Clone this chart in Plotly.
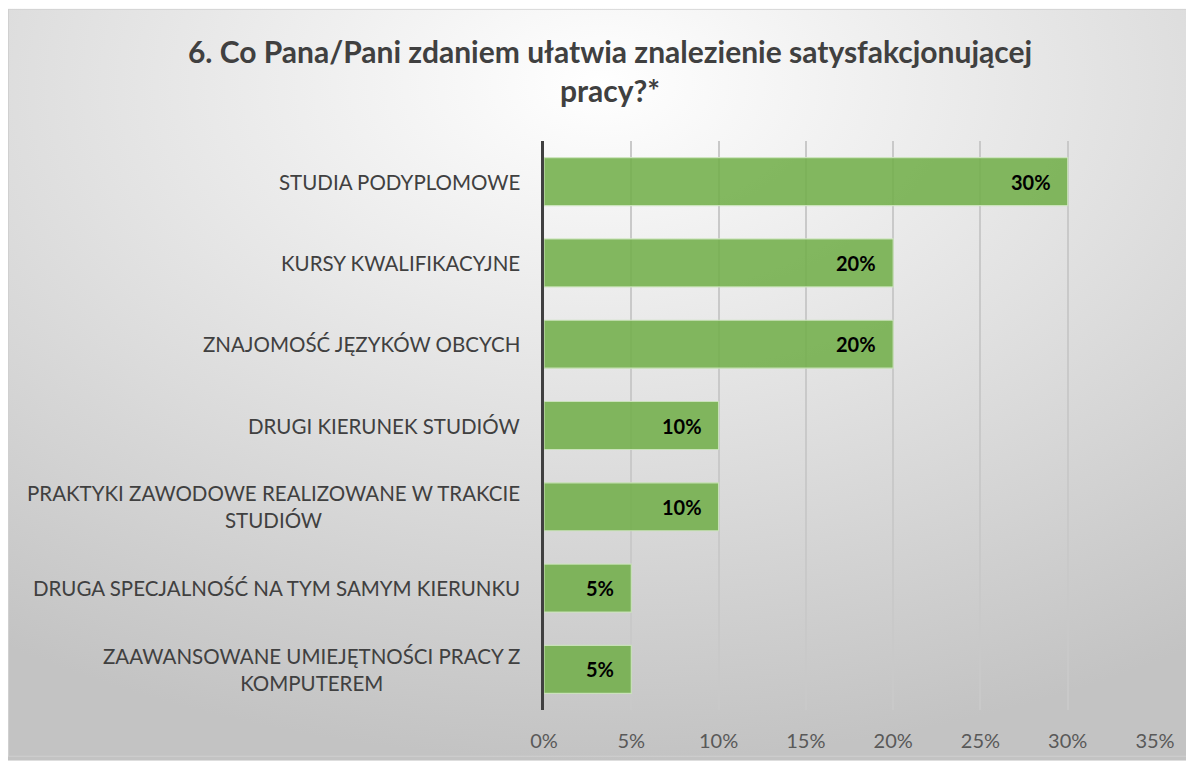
import base64
import plotly.graph_objects as go

categories = [
    "STUDIA PODYPLOMOWE",
    "KURSY KWALIFIKACYJNE",
    "ZNAJOMOŚĆ JĘZYKÓW OBCYCH",
    "DRUGI KIERUNEK STUDIÓW",
    "PRAKTYKI ZAWODOWE REALIZOWANE W TRAKCIE<br>STUDIÓW",
    "DRUGA SPECJALNOŚĆ NA TYM SAMYM KIERUNKU",
    "ZAAWANSOWANE UMIEJĘTNOŚCI PRACY Z<br>KOMPUTEREM",
]
values = [0.30, 0.20, 0.20, 0.10, 0.10, 0.05, 0.05]
tick_vals = [0, 0.05, 0.10, 0.15, 0.20, 0.25, 0.30, 0.35]
tick_text = ["0%", "5%", "10%", "15%", "20%", "25%", "30%", "35%"]
title_text = "6. Co Pana/Pani zdaniem ułatwia znalezienie satysfakcjonującej<br>pracy?*"

W, H = 1186, 756
L, R, T, B = 536, 39, 133, 51
PW, PH = W - L - R, H - T - B
FONT = "Lato"

svg = (
    '<svg xmlns="http://www.w3.org/2000/svg" width="1186" height="756" '
    'viewBox="0 0 1186 756" preserveAspectRatio="none">'
    '<defs><radialGradient id="g" cx="0.5" cy="0.1" r="0.9" '
    'gradientUnits="objectBoundingBox">'
    '<stop offset="0" stop-color="#ffffff"/>'
    '<stop offset="1" stop-color="#c3c3c3"/>'
    '</radialGradient></defs>'
    '<rect x="0" y="0" width="1186" height="756" fill="url(#g)"/>'
    '<rect x="0.5" y="0.5" width="1186" height="751" fill="none" stroke="#d0d0d0" stroke-width="1"/>'
    '</svg>'
)
src = "data:image/svg+xml;base64," + base64.b64encode(svg.encode()).decode()

fig = go.Figure()
fig.add_trace(go.Bar(
    x=values, y=list(range(len(categories))), orientation="h",
    marker=dict(color="rgba(112,173,71,0.86)",
                line=dict(color="rgba(205,228,190,0.9)", width=1.2)),
    width=0.59, hoverinfo="skip",
))

for i, c in enumerate(categories):
    fig.add_annotation(
        x=0, xref="paper", y=i, yref="y", xanchor="right", yanchor="middle",
        xshift=-22, text=c, showarrow=False, align="center",
        font=dict(family=FONT, size=20.5, color="#404040"),
    )

for i, v in enumerate(values):
    fig.add_annotation(
        x=v, xref="x", y=i, yref="y", xanchor="right", yanchor="middle",
        xshift=-15, text=f"{int(round(v*100))}%", showarrow=False,
        font=dict(family=FONT, size=20, color="#000000", weight="bold"),
    )

fig.add_layout_image(
    source=src, xref="paper", yref="paper",
    x=-L / PW, y=1 + T / PH, sizex=W / PW, sizey=H / PH,
    xanchor="left", yanchor="top", sizing="stretch", layer="below",
)

fig.update_layout(
    width=W, height=H,
    margin=dict(l=L, r=R, t=T, b=B),
    paper_bgcolor="white", plot_bgcolor="rgba(0,0,0,0)",
    showlegend=False,
    title=dict(text=title_text, x=602 / W, xanchor="center", y=1 - 55 / H, yanchor="top",
               font=dict(family=FONT, size=30, color="#404040", weight="bold")),
    xaxis=dict(range=[0, 0.35], tickvals=tick_vals, ticktext=tick_text,
               showgrid=True, gridcolor="#c9c9c9", gridwidth=1.5,
               zeroline=False, showline=False, ticks="",
               tickfont=dict(family=FONT, size=20, color="#595959"),
               ticklabelstandoff=17),
    yaxis=dict(autorange=False, range=[len(categories) - 0.5, -0.5],
               showticklabels=False, showgrid=False, zeroline=False,
               showline=True, linecolor="#404040", linewidth=3, ticks=""),
)

fig.write_html("out.html")
